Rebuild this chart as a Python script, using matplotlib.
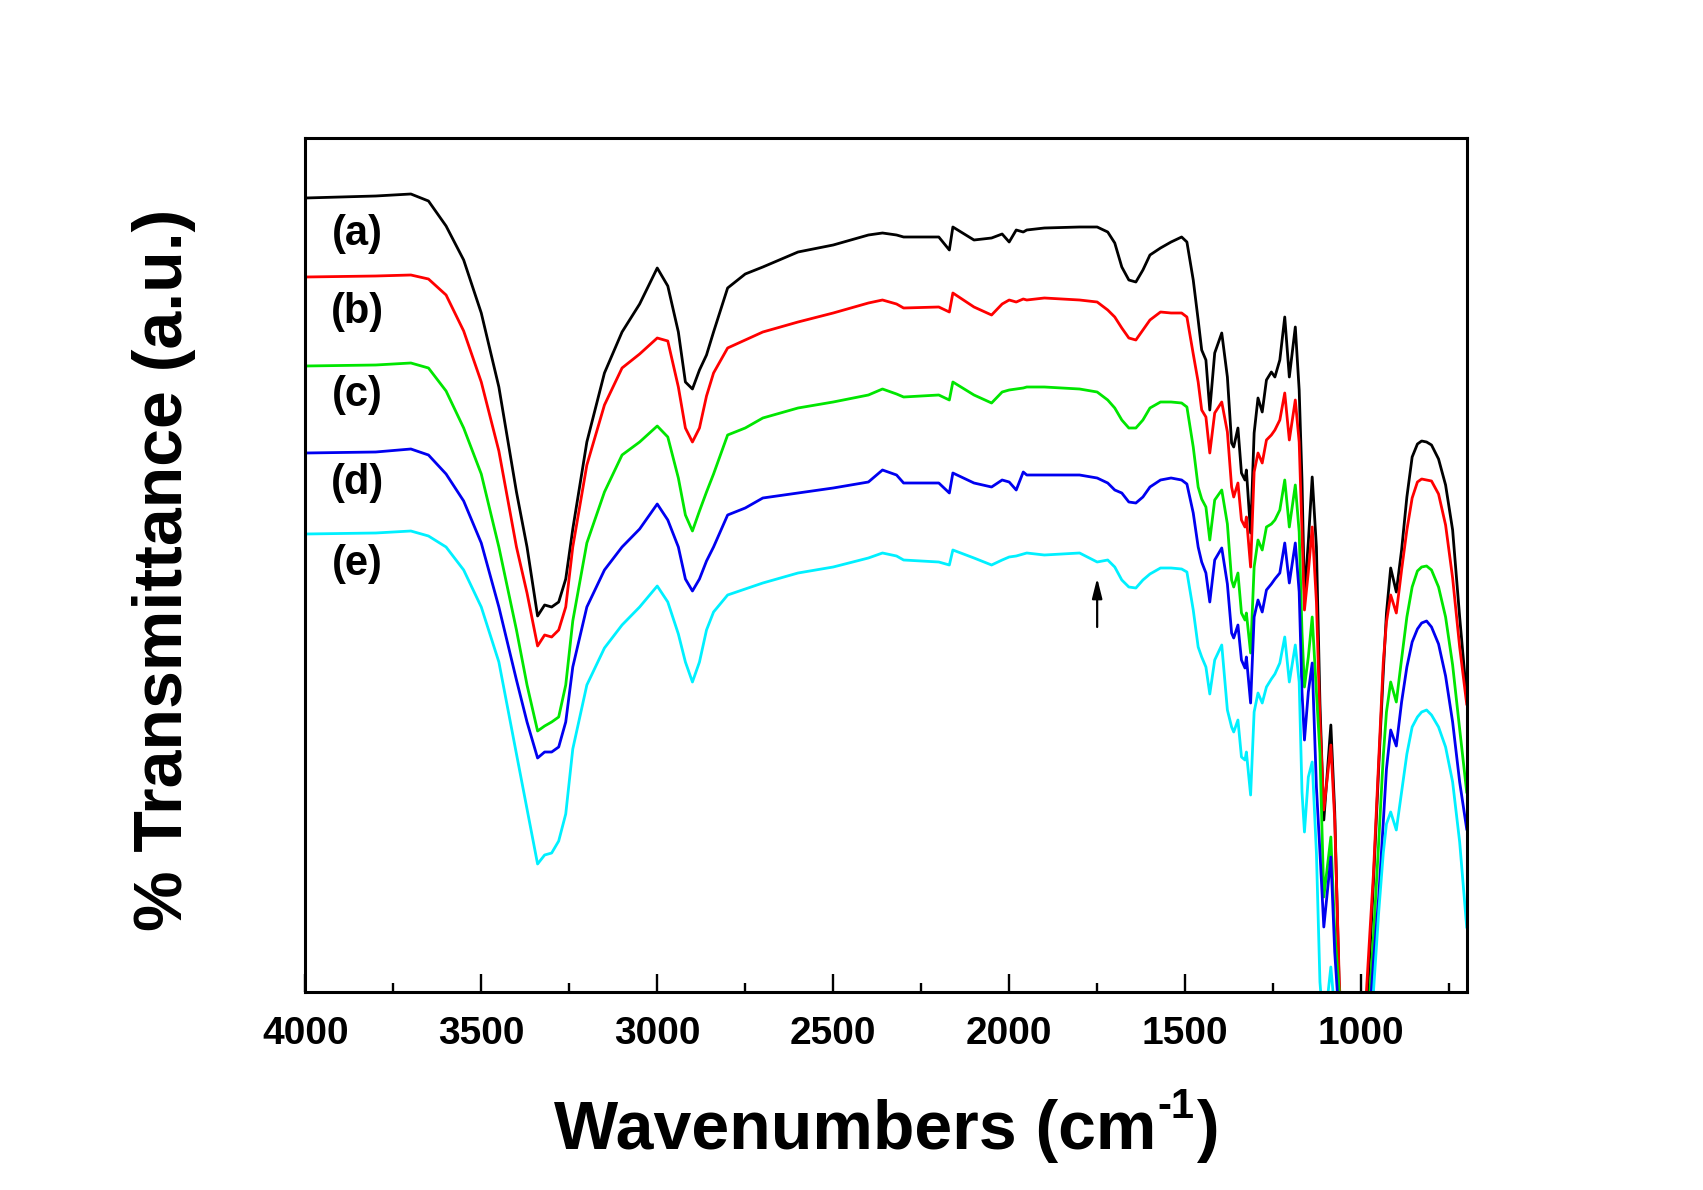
import matplotlib
matplotlib.use("Agg")
import matplotlib.pyplot as plt
from matplotlib.ticker import MultipleLocator

plt.rcParams['font.family'] = ['Liberation Sans', 'DejaVu Sans']
plt.rcParams['font.weight'] = 'bold'

# ---------------- data ----------------
wavenumber = [
    4000, 3800, 3700, 3650, 3600, 3550, 3500, 3450, 3400, 3370, 3340, 3320, 3300, 3280, 3260,
    3240, 3200, 3150, 3100, 3050, 3000, 2970, 2940, 2920, 2900, 2880, 2860, 2840, 2800, 2750,
    2700, 2600, 2500, 2400, 2360, 2320, 2300, 2200, 2170, 2160, 2100, 2050, 2020, 2000, 1980,
    1960, 1950, 1900, 1800, 1750, 1720, 1700, 1680, 1660, 1640, 1620, 1600, 1570,
    1540, 1510, 1495, 1477, 1463, 1453, 1441, 1430, 1416, 1396, 1380, 1368, 1362, 1350, 1340,
    1330, 1326, 1314, 1304, 1293, 1281, 1269, 1255, 1245, 1231, 1217, 1204, 1187, 1176, 1168,
    1161, 1150, 1139, 1127, 1117, 1106, 1086, 1075, 1062, 1040, 1000, 985, 975, 965, 950,
    937, 928, 916, 900, 885, 870, 855, 840, 828, 814, 800, 780, 760, 740, 720, 700]

trans_a = [
    794, 796, 798, 791, 766, 732, 679, 605, 500, 445, 376, 387, 385, 390, 413,
    463, 550, 619, 660, 688, 724, 706, 660, 610, 603, 622, 637, 660, 704, 718,
    725, 740, 747, 757, 759, 757, 755, 755, 742, 765, 752, 754, 758, 750, 762,
    760, 762, 764, 765, 765, 760, 749, 725, 712, 710, 722, 737, 744,
    750, 755, 750, 712, 672, 642, 632, 582, 639, 659, 615, 549, 545, 564, 519,
    512, 522, 459, 559, 594, 580, 612, 620, 615, 632, 675, 615, 665, 602, 512,
    395, 450, 515, 445, 289, 172, 267, 180, 0, -150, -150, -20, 40, 110, 225,
    320, 379, 424, 400, 442, 495, 535, 548, 551, 550, 547, 533, 507, 462, 375, 295]

trans_b = [
    715, 716, 717, 713, 697, 661, 610, 541, 445, 399, 346, 357, 355, 362, 385,
    445, 527, 587, 624, 638, 654, 651, 605, 564, 550, 564, 596, 619, 644, 652,
    660, 670, 679, 689, 692, 688, 684, 685, 680, 699, 685, 677, 688, 692, 690,
    693, 692, 694, 692, 690, 682, 675, 664, 654, 652, 662, 672, 680,
    679, 679, 675, 638, 610, 582, 575, 539, 579, 590, 560, 505, 495, 509, 472,
    465, 475, 425, 520, 539, 529, 552, 557, 562, 572, 599, 552, 592, 550, 460,
    382, 420, 465, 390, 272, 182, 247, 172, 10, -150, -150, 0, 60, 118, 232,
    330, 370, 397, 379, 422, 462, 494, 510, 513, 512, 511, 498, 467, 414, 345, 288]

trans_c = [
    626, 627, 629, 624, 601, 564, 518, 445, 362, 307, 261, 266, 270, 275, 307,
    371, 449, 500, 537, 550, 566, 555, 514, 477, 461, 481, 500, 518, 557, 564,
    574, 584, 590, 597, 603, 598, 595, 597, 592, 610, 597, 589, 600, 602, 603,
    604, 605, 605, 603, 600, 592, 584, 572, 564, 564, 572, 584, 590,
    590, 589, 585, 545, 505, 493, 485, 452, 492, 502, 468, 412, 405, 419, 379,
    372, 379, 339, 425, 452, 442, 465, 468, 472, 482, 512, 465, 507, 460, 360,
    305, 335, 375, 300, 239, 95, 155, 60, 0, -150, -150, -60, 0, 55, 150,
    236, 280, 310, 290, 333, 375, 405, 421, 425, 426, 422, 405, 375, 327, 263, 200]

trans_d = [
    539, 540, 543, 537, 518, 491, 449, 385, 312, 270, 234, 240, 240, 245, 270,
    325, 385, 422, 445, 463, 488, 472, 445, 413, 401, 413, 431, 445, 477, 484,
    494, 499, 504, 510, 522, 517, 509, 509, 499, 519, 509, 505, 512, 510, 502,
    520, 517, 517, 517, 514, 509, 502, 499, 490, 489, 495, 505, 512,
    514, 512, 508, 479, 445, 430, 419, 390, 432, 444, 408, 359, 354, 367, 332,
    324, 335, 289, 375, 392, 380, 402, 408, 413, 419, 449, 409, 449, 400, 300,
    252, 300, 329, 205, 140, 65, 135, 40, -30, -150, -150, -80, -20, 30, 95,
    170, 223, 262, 246, 290, 325, 350, 363, 369, 371, 365, 348, 316, 270, 210, 163]

trans_e = [
    458, 459, 461, 456, 445, 422, 385, 330, 238, 183, 128, 137, 139, 151, 178,
    243, 307, 344, 367, 385, 406, 390, 358, 330, 310, 330, 362, 380, 397, 403,
    409, 419, 425, 434, 439, 436, 432, 430, 427, 442, 434, 427, 432, 435, 436,
    438, 439, 437, 439, 430, 432, 425, 412, 405, 404, 412, 418, 424,
    424, 423, 420, 382, 345, 335, 325, 298, 332, 347, 282, 265, 260, 272, 235,
    232, 240, 197, 280, 299, 289, 305, 313, 318, 329, 355, 310, 347, 310, 200,
    160, 215, 230, 139, 10, -40, 25, -20, -100, -150, -150, -120, -60, 0, 80,
    139, 168, 180, 162, 200, 238, 265, 275, 280, 282, 277, 265, 245, 210, 150, 65]

series = [trans_a, trans_b, trans_c, trans_d, trans_e]
labels = ['(a)', '(b)', '(c)', '(d)', '(e)']
label_y = [758, 680, 597, 509, 428]
label_x = 3853
colors = ['#000000', '#FF0000', '#00E600', '#0000F0', '#00F0FF']

arrow_x = 1750
arrow_from = 365
arrow_to = 414

xticks_major = [4000, 3500, 3000, 2500, 2000, 1500, 1000]

# ---------------- figure ----------------
W, H = 1703, 1190
fig = plt.figure(figsize=(W / 100, H / 100), dpi=100)
ax = fig.add_axes([305.3 / W, 1 - 992 / H, (1466.7 - 305.3) / W, (992 - 138) / H])

for y, c in zip(series, colors):
    ax.plot(wavenumber, y, color=c, lw=2.0, solid_joinstyle='round')

ax.set_xlim(4000, 700)
ax.set_ylim(0, 854)
ax.set_yticks([])
ax.set_xticks(xticks_major)
ax.set_xticklabels([str(t) for t in xticks_major])
ax.xaxis.set_minor_locator(MultipleLocator(250))
ax.tick_params(axis='x', which='major', direction='in', length=13, width=1.7,
               labelsize=28, pad=17.5, top=False)
ax.tick_params(axis='x', which='minor', direction='in', length=6.5, width=1.7, top=False)
for lab in ax.get_xticklabels():
    lab.set_fontweight('bold')
for sp in ax.spines.values():
    sp.set_linewidth(2.2)

for lab, ly in zip(labels, label_y):
    ax.text(label_x, ly, lab, fontsize=30, fontweight='bold', ha='center', va='center')

ax.annotate('', xy=(arrow_x, arrow_to), xytext=(arrow_x, arrow_from),
            arrowprops=dict(arrowstyle='-|>,head_length=0.6,head_width=0.15',
                            lw=1.6, color='k', shrinkA=0, shrinkB=0, mutation_scale=20))

# y label
fig.text(164.3 / W, 1 - 570 / H, '% Transmittance (a.u.)', rotation=90,
         ha='center', va='center', fontsize=49, fontweight='bold')

# x label composed of pieces to keep a plain hyphen in the superscript
base_y = 1 - 1149 / H
t1 = fig.text(0, base_y, 'Wavenumbers (cm', fontsize=49, fontweight='bold',
              ha='left', va='baseline')
t2 = fig.text(0, base_y + 31 / H, '-1', fontsize=30, fontweight='bold',
              ha='left', va='baseline')
t3 = fig.text(0, base_y, ')', fontsize=49, fontweight='bold', ha='left', va='baseline')
fig.canvas.draw()
r = fig.canvas.get_renderer()
w1 = t1.get_window_extent(r).width
w2 = t2.get_window_extent(r).width
w3 = t3.get_window_extent(r).width
total = w1 + w2 + 4 + w3
x0 = 887 - total / 2
t1.set_x(x0 / W)
t2.set_x((x0 + w1 + 1) / W)
t3.set_x((x0 + w1 + w2 + 4) / W)

fig.savefig('out.png', dpi=100)
